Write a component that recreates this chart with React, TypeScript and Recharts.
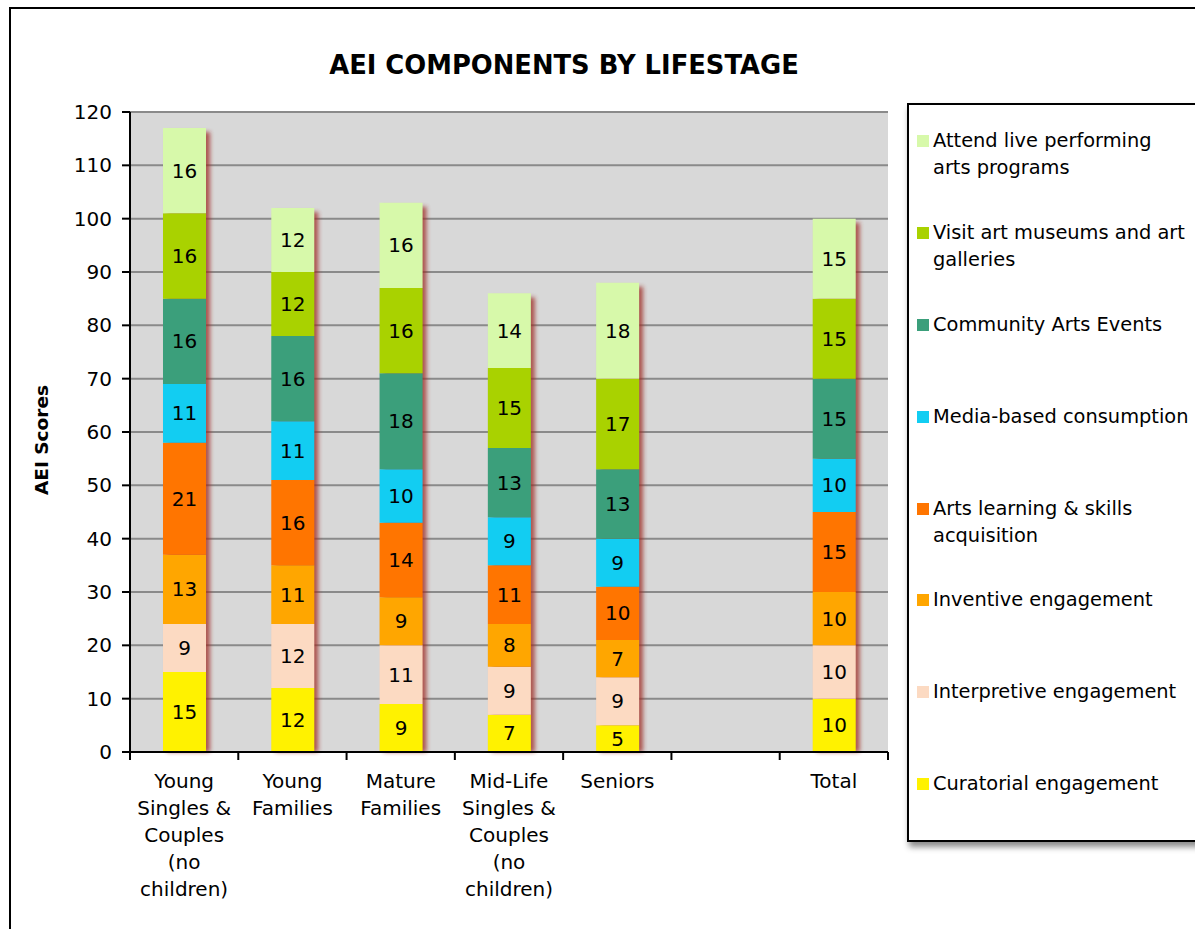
import React from 'react';
import { BarChart, Bar, XAxis, YAxis, CartesianGrid, LabelList, Legend } from 'recharts';

// Lifestage groups; the blank slot keeps a gap before the Total column
const categories = [
  'Young Singles & Couples (no children)',
  'Young Families',
  'Mature Families',
  'Mid-Life Singles & Couples (no children)',
  'Seniors',
  '',
  'Total',
];
const tickLines: string[][] = [
  ['Young', 'Singles &', 'Couples', '(no', 'children)'],
  ['Young', 'Families'],
  ['Mature', 'Families'],
  ['Mid-Life', 'Singles &', 'Couples', '(no', 'children)'],
  ['Seniors'],
  [],
  ['Total'],
];

// Component scores, stacked bottom to top
const curatorial = [15, 12, 9, 7, 5, null, 10];
const interpretive = [9, 12, 11, 9, 9, null, 10];
const inventive = [13, 11, 9, 8, 7, null, 10];
const artsLearning = [21, 16, 14, 11, 10, null, 15];
const mediaBased = [11, 11, 10, 9, 9, null, 10];
const communityEvents = [16, 16, 18, 13, 13, null, 15];
const museums = [16, 12, 16, 15, 17, null, 15];
const livePerforming = [16, 12, 16, 14, 18, null, 15];

const yTicks = [0, 10, 20, 30, 40, 50, 60, 70, 80, 90, 100, 110, 120];

const series = [
  { key: 'curatorial', name: 'Curatorial engagement', color: '#fff200', values: curatorial },
  { key: 'interpretive', name: 'Interpretive engagement', color: '#fcdac2', values: interpretive },
  { key: 'inventive', name: 'Inventive engagement', color: '#ffa600', values: inventive },
  { key: 'artsLearning', name: 'Arts learning & skills acquisition', color: '#ff7500', values: artsLearning },
  { key: 'mediaBased', name: 'Media-based consumption', color: '#12cdf2', values: mediaBased },
  { key: 'community', name: 'Community Arts Events', color: '#3b9f7b', values: communityEvents },
  { key: 'museums', name: 'Visit art museums and art galleries', color: '#a9d200', values: museums },
  { key: 'live', name: 'Attend live performing arts programs', color: '#d7f9aa', values: livePerforming },
];

const data = categories.map((category, i) => {
  const row: Record<string, any> = { category };
  let sum = 0;
  let any = false;
  series.forEach((s) => {
    row[s.key] = s.values[i];
    if (s.values[i] != null) {
      sum += s.values[i] as number;
      any = true;
    }
  });
  row.total = any ? sum : null;
  return row;
});

const FONT = '"DejaVu Sans", "Open Sans", sans-serif';
const FS = 20;
const LEGEND_FS = 19.4;
const W = 1195;
const H = 929;
const PLOT_LEFT = 130;
const PLOT_RIGHT = 888;
const BAND = (PLOT_RIGHT - PLOT_LEFT) / categories.length;

const CategoryTick = (props: any) => {
  const { x, y, index } = props;
  const lines = tickLines[index] || [];
  const isLast = index === categories.length - 1;
  return (
    <g>
      <line x1={x - BAND / 2} x2={x - BAND / 2} y1={y} y2={y + 8} stroke="#000" strokeWidth={2} />
      {isLast && <line x1={x + BAND / 2} x2={x + BAND / 2} y1={y} y2={y + 8} stroke="#000" strokeWidth={2} />}
      <text textAnchor="middle" fontSize={FS} fontFamily={FONT} fill="#000">
        {lines.map((l, i) => (
          <tspan key={i} x={x} y={y + 36 + i * 27}>
            {l}
          </tspan>
        ))}
      </text>
    </g>
  );
};

// Red soft shadow drawn behind each full stack
const ShadowShape = (props: any) => {
  const { x, y, width, height } = props;
  if (!height || height <= 0) return null;
  return (
    <rect
      x={x + 4}
      y={y + 4}
      width={width}
      height={height - 4}
      fill="#9e2a22"
      opacity={0.75}
      filter="url(#stackShadow)"
    />
  );
};

const renderLegend = (props: any) => {
  const payload = (props.payload || []).filter((p: any) => p.type !== 'none');
  // top of the stack first
  const items = series
    .slice()
    .reverse()
    .map((s) => payload.find((p: any) => p.value === s.name))
    .filter(Boolean);
  return (
    <div
      style={{
        width: '100%',
        height: '100%',
        boxSizing: 'border-box',
        border: '2px solid #000',
        background: '#fff',
        boxShadow: '2px 5px 6px rgba(0,0,0,0.45)',
        paddingTop: 22,
        paddingLeft: 8,
        fontFamily: FONT,
      }}
    >
      {items.map((it: any) => (
        <div key={it.value} style={{ height: 91.9, display: 'flex', alignItems: 'flex-start' }}>
          <span
            style={{ width: 12, height: 12, background: it.color, marginTop: 8, marginRight: 4, flex: 'none' }}
          />
          <span style={{ fontSize: LEGEND_FS, lineHeight: '27px', width: 258, color: '#000' }}>{it.value}</span>
        </div>
      ))}
    </div>
  );
};

const YLabel = (props: any) => {
  const { viewBox } = props;
  const cx = viewBox.x + 11;
  const cy = viewBox.y + viewBox.height / 2 + 8;
  return (
    <text
      x={cx}
      y={cy}
      transform={`rotate(-90, ${cx}, ${cy})`}
      textAnchor="middle"
      dominantBaseline="central"
      fontSize={18.5}
      fontWeight="bold"
      fontFamily={FONT}
      fill="#000"
    >
      AEI Scores
    </text>
  );
};

export default function App() {
  return (
    <div style={{ position: 'absolute', left: 0, top: 0, width: W, height: H, overflow: 'hidden', background: '#fff' }}>
      <div
        style={{
          position: 'absolute',
          left: 9,
          top: 7,
          width: W,
          height: H,
          borderLeft: '2px solid #000',
          borderTop: '2px solid #000',
        }}
      />
      <div
        style={{
          position: 'absolute',
          left: 0,
          top: 45,
          width: 1128,
          textAlign: 'center',
          fontFamily: FONT,
          fontWeight: 'bold',
          fontSize: 25.8,
          lineHeight: '40px',
          color: '#000',
        }}
      >
        AEI COMPONENTS BY LIFESTAGE
      </div>
      <div style={{ position: 'absolute', left: 0, top: 0 }}>
        <BarChart width={W} height={H} data={data} margin={{ top: 112, right: 307, bottom: 27, left: 30 }}>
          <defs>
            <filter id="stackShadow" x="-50%" y="-10%" width="200%" height="120%">
              <feGaussianBlur stdDeviation="2.2" />
            </filter>
          </defs>
          <CartesianGrid vertical={false} stroke="#8a8a8a" strokeWidth={2} fill="#d8d8d8" fillOpacity={1} />
          <XAxis
            dataKey="category"
            height={150}
            interval={0}
            tickLine={false}
            tickSize={0}
            tickMargin={0}
            axisLine={{ stroke: '#000', strokeWidth: 2 }}
            tick={<CategoryTick />}
          />
          <XAxis xAxisId="shadow" dataKey="category" hide />
          <YAxis
            width={100}
            domain={[0, 120]}
            ticks={yTicks}
            interval={0}
            tickSize={8}
            tickMargin={10}
            tickLine={{ stroke: '#000', strokeWidth: 2 }}
            axisLine={{ stroke: '#000', strokeWidth: 2 }}
            tick={{ fontSize: FS, fill: '#000', fontFamily: FONT }}
            label={<YLabel />}
          />
          <YAxis
            yAxisId="edge"
            orientation="right"
            width={0}
            domain={[0, 120]}
            tick={false}
            tickLine={false}
            axisLine={{ stroke: '#a0a0a0', strokeWidth: 1.5 }}
          />
          <Bar
            xAxisId="shadow"
            dataKey="total"
            barSize={43}
            legendType="none"
            shape={<ShadowShape />}
            isAnimationActive={false}
          />
          {series.map((s) => (
            <Bar
              key={s.key}
              dataKey={s.key}
              name={s.name}
              stackId="aei"
              fill={s.color}
              barSize={43}
              isAnimationActive={false}
            >
              <LabelList
                dataKey={s.key}
                position="center"
                fill="#000"
                fontSize={FS}
                fontFamily={FONT}
                formatter={(v: any) => (v == null ? '' : v)}
              />
            </Bar>
          ))}
          <Legend
            layout="vertical"
            align="center"
            verticalAlign="middle"
            wrapperStyle={{ left: 907, top: 103, width: 310, height: 739 }}
            content={renderLegend}
          />
        </BarChart>
      </div>
    </div>
  );
}
